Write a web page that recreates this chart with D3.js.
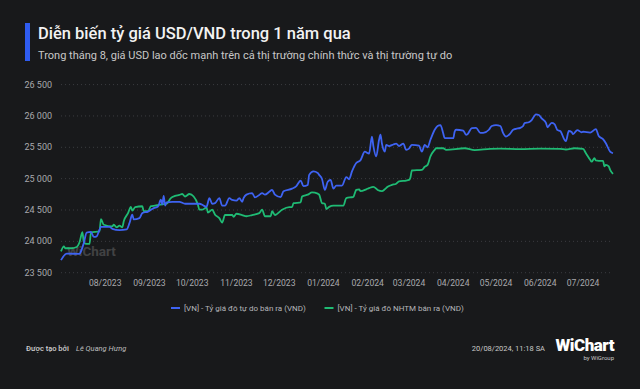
<!DOCTYPE html>
<html>
<head>
<meta charset="utf-8">
<script src="https://cdn.jsdelivr.net/npm/d3@7"></script>
<style>
  html, body { margin: 0; padding: 0; background: #18191b; }
  svg { display: block; font-family: Roboto, "Noto Sans", sans-serif; }
</style>
</head>
<body>
<div id="chart"></div>
<script>
// ty gia do tu do ban ra (VND)
var freeDates = ["2023-07-01","2023-07-05","2023-07-14","2023-07-15","2023-07-17","2023-07-19","2023-07-22","2023-07-24","2023-07-26","2023-07-28",
  "2023-07-29","2023-08-04","2023-08-06","2023-08-11","2023-08-16","2023-08-18","2023-08-20","2023-08-21","2023-08-25","2023-08-27",
  "2023-08-31","2023-09-04","2023-09-07","2023-09-09","2023-09-10","2023-09-11","2023-09-12","2023-09-13","2023-09-17","2023-09-22",
  "2023-09-26","2023-10-06","2023-10-09","2023-10-11","2023-10-13","2023-10-15","2023-10-17","2023-10-20","2023-10-22","2023-10-24",
  "2023-10-27","2023-10-29","2023-11-01","2023-11-03","2023-11-05","2023-11-06","2023-11-08","2023-11-12","2023-11-14","2023-11-17",
  "2023-11-19","2023-11-21","2023-11-24","2023-11-26","2023-11-28","2023-12-02","2023-12-04","2023-12-10","2023-12-13","2023-12-16",
  "2023-12-18","2023-12-21","2023-12-22","2023-12-25","2023-12-28","2023-12-29","2023-12-31","2024-01-02","2024-01-04","2024-01-06",
  "2024-01-08","2024-01-10","2024-01-14","2024-01-17","2024-01-19","2024-01-21","2024-01-24","2024-01-27","2024-01-30","2024-02-02",
  "2024-02-04","2024-02-05","2024-02-07","2024-02-09","2024-02-10","2024-02-11","2024-02-13","2024-02-14","2024-02-16","2024-02-19",
  "2024-02-21","2024-02-23","2024-02-26","2024-02-28","2024-03-01","2024-03-03","2024-03-08","2024-03-10","2024-03-12","2024-03-14",
  "2024-03-16","2024-03-19","2024-03-21","2024-03-23","2024-03-25","2024-03-26","2024-04-01","2024-04-02","2024-04-03","2024-04-08",
  "2024-04-10","2024-04-11","2024-04-14","2024-04-17","2024-04-20","2024-04-22","2024-04-26","2024-04-28","2024-05-01","2024-05-04",
  "2024-05-06","2024-05-08","2024-05-11","2024-05-13","2024-05-15","2024-05-18","2024-05-20","2024-05-21","2024-05-24","2024-05-26",
  "2024-05-29","2024-05-31","2024-06-02","2024-06-05","2024-06-06","2024-06-09","2024-06-11","2024-06-13","2024-06-15","2024-06-18",
  "2024-06-19","2024-06-21","2024-06-23","2024-06-24","2024-06-27","2024-06-30","2024-07-01","2024-07-06","2024-07-10","2024-07-12",
  "2024-07-15","2024-07-17","2024-07-20","2024-07-22"];
var freeValues = [23700,23805,23800,23840,23975,24140,24150,24070,24080,24185,
  24230,24230,24200,24180,24190,24290,24425,24350,24370,24450,
  24475,24530,24555,24665,24590,24725,24570,24620,24630,24630,
  24600,24600,24570,24550,24690,24600,24610,24690,24570,24570,
  24690,24660,24650,24690,24630,24690,24745,24770,24700,24740,
  24770,24745,24790,24820,24745,24705,24800,24840,24880,24970,
  24880,24900,25060,25115,25090,25060,24995,24820,24950,24980,
  24840,24890,24890,25025,24990,25115,25250,25295,25430,25400,
  25670,25520,25355,25620,25700,25560,25430,25540,25520,25545,
  25560,25520,25560,25460,25480,25540,25525,25430,25540,25500,
  25620,25780,25840,25855,25720,25645,25645,25750,25780,25765,
  25700,25710,25805,25810,25730,25730,25780,25840,25855,25840,
  25725,25670,25720,25780,25795,25810,25840,25885,25900,25935,
  26025,26015,25960,25890,25820,25890,25870,25775,25760,25620,
  25600,25760,25745,25710,25775,25740,25750,25735,25790,25680,
  25630,25565,25430,25405];

// ty gia do NHTM ban ra (VND)
var bankDates = ["2023-07-01","2023-07-03","2023-07-04","2023-07-08","2023-07-12","2023-07-14","2023-07-16","2023-07-17","2023-07-19","2023-07-21",
  "2023-07-22","2023-07-28","2023-07-29","2023-07-31","2023-08-06","2023-08-07","2023-08-09","2023-08-11","2023-08-13","2023-08-14",
  "2023-08-17","2023-08-19","2023-08-20","2023-08-22","2023-08-27","2023-08-28","2023-08-31","2023-09-02","2023-09-05","2023-09-08",
  "2023-09-13","2023-09-16","2023-09-19","2023-09-22","2023-09-24","2023-09-26","2023-09-29","2023-10-02","2023-10-05","2023-10-06",
  "2023-10-08","2023-10-11","2023-10-12","2023-10-15","2023-10-17","2023-10-20","2023-10-22","2023-10-24","2023-10-29","2023-10-30",
  "2023-11-01","2023-11-05","2023-11-08","2023-11-12","2023-11-17","2023-11-19","2023-11-21","2023-11-25","2023-11-26","2023-11-28",
  "2023-12-03","2023-12-08","2023-12-10","2023-12-11","2023-12-16","2023-12-17","2023-12-21","2023-12-24","2023-12-28","2023-12-29",
  "2023-12-31","2024-01-02","2024-01-03","2024-01-05","2024-01-08","2024-01-15","2024-01-17","2024-01-22","2024-01-23","2024-01-24",
  "2024-01-26","2024-01-27","2024-01-31","2024-02-02","2024-02-05","2024-02-08","2024-02-11","2024-02-13","2024-02-15","2024-02-18",
  "2024-02-21","2024-02-23","2024-02-28","2024-03-01","2024-03-02","2024-03-03","2024-03-10","2024-03-12","2024-03-14","2024-03-16",
  "2024-03-19","2024-03-20","2024-03-25","2024-03-27","2024-04-09","2024-04-16","2024-04-27","2024-05-04","2024-05-18","2024-06-01",
  "2024-06-15","2024-06-19","2024-06-25","2024-07-01","2024-07-03","2024-07-06","2024-07-07","2024-07-09","2024-07-10","2024-07-12",
  "2024-07-15","2024-07-16","2024-07-17","2024-07-19","2024-07-20","2024-07-22"];
var bankValues = [23840,23920,23890,23890,23910,23985,24145,23985,23960,23960,
  24145,24160,24355,24265,24240,24265,24225,24250,24225,24320,
  24450,24550,24490,24545,24560,24480,24480,24560,24570,24585,
  24600,24690,24725,24740,24755,24715,24755,24715,24585,24505,
  24505,24540,24460,24505,24425,24370,24300,24420,24420,24390,
  24440,24420,24400,24420,24450,24505,24400,24400,24480,24420,
  24505,24545,24545,24610,24620,24715,24745,24780,24760,24745,
  24610,24600,24515,24550,24570,24570,24690,24710,24770,24820,
  24830,24800,24830,24850,24870,24820,24800,24830,24870,24900,
  24920,24955,24970,24980,25020,25130,25140,25190,25220,25355,
  25460,25485,25485,25460,25485,25455,25475,25480,25470,25480,
  25475,25465,25485,25475,25405,25300,25270,25325,25290,25285,
  25285,25195,25220,25195,25140,25075];

var yTicks = [23500, 24000, 24500, 25000, 25500, 26000, 26500];
var monthTicks = ["2023-08-01","2023-09-01","2023-10-01","2023-11-01","2023-12-01","2024-01-01",
  "2024-02-01","2024-03-01","2024-04-01","2024-05-01","2024-06-01","2024-07-01"];
var seriesNames = ["[VN] - Tỷ giá đô tự do bán ra (VND)", "[VN] - Tỷ giá đô NHTM bán ra (VND)"];
var seriesColors = ["#3e63f2", "#1fbb74"];

var width = 640, height = 389;
var parse = d3.timeParse("%Y-%m-%d");
var fmt = d3.formatLocale({ decimal: ",", thousands: " ", grouping: [3], currency: ["", ""] }).format(",");

var svg = d3.select("#chart").append("svg")
    .attr("width", width)
    .attr("height", height);

svg.append("rect").attr("width", width).attr("height", height).attr("fill", "#18191b");

// header
svg.append("rect").attr("x", 25).attr("y", 23).attr("width", 5).attr("height", 38).attr("fill", "#2f5cf0");
svg.append("text").attr("x", 38).attr("y", 39)
    .attr("fill", "#f2f2f2").attr("font-size", 16.5).attr("font-weight", 500)
    .text("Diễn biến tỷ giá USD/VND trong 1 năm qua");
svg.append("text").attr("x", 38).attr("y", 58.5)
    .attr("fill", "#c8c8c8").attr("font-size", 11)
    .text("Trong tháng 8, giá USD lao dốc mạnh trên cả thị trường chính thức và thị trường tự do");

var x = d3.scaleTime()
    .domain([parse("2023-07-01"), parse("2024-07-22")])
    .range([61, 613]);
var y = d3.scaleLinear()
    .domain([23500, 26500])
    .range([272.7, 84.6]);

// grid + y labels
var gy = svg.append("g");
gy.selectAll("line").data(yTicks).enter().append("line")
    .attr("x1", 61).attr("x2", 613)
    .attr("y1", function (d) { return y(d); })
    .attr("y2", function (d) { return y(d); })
    .attr("stroke", "#3b3c40").attr("stroke-dasharray", "1,3");
gy.selectAll("text").data(yTicks).enter().append("text")
    .attr("x", 52).attr("y", function (d) { return y(d) + 3; })
    .attr("text-anchor", "end").attr("fill", "#a8a9ad").attr("font-size", 9)
    .text(function (d) { return fmt(d); });

// x labels
svg.append("g").selectAll("text").data(monthTicks).enter().append("text")
    .attr("x", function (d) { return x(parse(d)); })
    .attr("y", 286)
    .attr("text-anchor", "middle").attr("fill", "#a8a9ad").attr("font-size", 8.6)
    .text(function (d) { return d3.timeFormat("%m/%Y")(parse(d)); });

// watermark
var wm = svg.append("g").attr("opacity", 0.3);
wm.append("text").attr("x", 67).attr("y", 256)
    .attr("fill", "#a0a0a0").attr("font-size", 13.5).attr("font-weight", 700)
    .text("WiChart");

var line = d3.line()
    .curve(d3.curveMonotoneX)
    .x(function (d) { return x(d.date); })
    .y(function (d) { return y(d.value); });

function toSeries(dates, values) {
    return dates.map(function (d, i) { return { date: parse(d), value: values[i] }; });
}
var series = [toSeries(bankDates, bankValues), toSeries(freeDates, freeValues)];
var colors = [seriesColors[1], seriesColors[0]];

series.forEach(function (s, i) {
    svg.append("path").datum(s)
        .attr("fill", "none")
        .attr("stroke", colors[i])
        .attr("stroke-width", 1.8)
        .attr("stroke-linejoin", "round")
        .attr("d", line);
});

// legend
var legendX = [171, 324.5];
var lg = svg.append("g");
seriesNames.forEach(function (name, i) {
    lg.append("line").attr("x1", legendX[i]).attr("x2", legendX[i] + 9)
        .attr("y1", 308).attr("y2", 308)
        .attr("stroke", seriesColors[i]).attr("stroke-width", 2);
    lg.append("text").attr("x", legendX[i] + 13).attr("y", 311)
        .attr("fill", "#b5b6ba").attr("font-size", 8)
        .text(name);
});

// footer
svg.append("text").attr("x", 26).attr("y", 350.5)
    .attr("fill", "#d0d0d0").attr("font-size", 7.5).attr("font-weight", 500)
    .text("Được tạo bởi");
svg.append("text").attr("x", 76).attr("y", 350.5)
    .attr("fill", "#bdbdbd").attr("font-size", 7.5).attr("font-style", "italic")
    .text("Lê Quang Hưng");
svg.append("text").attr("x", 545).attr("y", 350.5)
    .attr("text-anchor", "end")
    .attr("fill", "#c8c8c8").attr("font-size", 7.5)
    .text("20/08/2024, 11:18 SA");
svg.append("text").attr("x", 614).attr("y", 351)
    .attr("text-anchor", "end")
    .attr("fill", "#ffffff").attr("font-size", 17).attr("font-weight", 900)
    .attr("letter-spacing", -0.5)
    .text("WiChart");
svg.append("text").attr("x", 614).attr("y", 360)
    .attr("text-anchor", "end")
    .attr("fill", "#c8c8c8").attr("font-size", 6)
    .text("by WiGroup");
</script>
</body>
</html>
